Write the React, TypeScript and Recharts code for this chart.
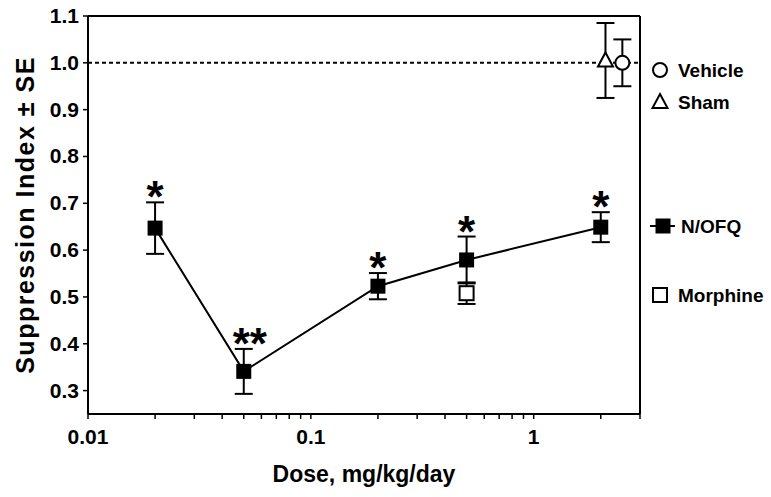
import React from "react";
import {
  ComposedChart,
  Scatter,
  XAxis,
  YAxis,
  ErrorBar,
  ReferenceLine,
  Label,
} from "recharts";

// N/OFQ dose-response
const nofqDose = [0.02, 0.05, 0.2, 0.5, 2];
const nofqMean = [0.647, 0.341, 0.523, 0.579, 0.649];
const nofqSE = [0.055, 0.048, 0.028, 0.05, 0.032];
const nofqSig = ["*", "**", "*", "*", "*"];

// single-dose groups
const morphineDose = [0.5];
const morphineMean = [0.508];
const morphineSE = [0.023];
const shamDose = [2.1];
const shamMean = [1.005];
const shamSE = [0.08];
const vehicleDose = [2.5];
const vehicleMean = [1.0];
const vehicleSE = [0.05];

const yTicks = [0.3, 0.4, 0.5, 0.6, 0.7, 0.8, 0.9, 1.0, 1.1];
const xTicks = [
  0.01, 0.02, 0.03, 0.04, 0.05, 0.06, 0.07, 0.08, 0.09,
  0.1, 0.2, 0.3, 0.4, 0.5, 0.6, 0.7, 0.8, 0.9, 1, 2, 3,
];
const xLabels = [0.01, 0.1, 1];

const FONT = "'Liberation Sans', Arial, Helvetica, sans-serif";

const toRows = (dose: number[], mean: number[], se: number[]) =>
  dose.map((d, i) => ({ dose: d, value: mean[i], se: se[i] }));

const nofq = toRows(nofqDose, nofqMean, nofqSE);
const morphine = toRows(morphineDose, morphineMean, morphineSE);
const sham = toRows(shamDose, shamMean, shamSE);
const vehicle = toRows(vehicleDose, vehicleMean, vehicleSE);
const stars = nofqDose.map((d, i) => ({
  dose: d,
  value: nofqMean[i] + nofqSE[i],
  sig: nofqSig[i],
}));

const FilledSquare = (p: any) => (
  <rect x={p.cx - 7.5} y={p.cy - 7.5} width={15} height={15} fill="#000" />
);
const OpenSquare = (p: any) => (
  <rect x={p.cx - 7} y={p.cy - 7} width={14} height={14} fill="#fff" stroke="#000" strokeWidth={2} />
);
const OpenCircle = (p: any) => (
  <circle cx={p.cx} cy={p.cy} r={7} fill="#fff" stroke="#000" strokeWidth={2} />
);
const OpenTriangle = (p: any) => (
  <path
    d={`M${p.cx},${p.cy - 8} L${p.cx + 7.5},${p.cy + 6} L${p.cx - 7.5},${p.cy + 6} Z`}
    fill="#fff"
    stroke="#000"
    strokeWidth={2}
  />
);
// significance marks sit just above the upper error cap
const Star = (p: any) => (
  <text
    x={p.cx + (p.payload.sig.length - 1) * 6}
    y={p.cy + 10}
    textAnchor="middle"
    fontFamily={FONT}
    fontWeight="bold"
    fontSize={44}
    fill="#000"
  >
    {p.payload.sig}
  </text>
);

const XTick = (p: any) => {
  const v = p.payload.value;
  if (!xLabels.includes(v)) return null;
  return (
    <text x={p.x} y={p.y + 23} textAnchor="middle" fontFamily={FONT} fontWeight="bold" fontSize={21} fill="#000">
      {v}
    </text>
  );
};

const YTick = (p: any) => (
  <text x={p.x} y={p.y + 7} textAnchor="end" fontFamily={FONT} fontWeight="bold" fontSize={21} fill="#000">
    {Number(p.payload.value).toFixed(1)}
  </text>
);

const legendItems = [
  { name: "Vehicle", y: 70, icon: "circle" },
  { name: "Sham", y: 102, icon: "triangle" },
  { name: "N/OFQ", y: 226, icon: "line" },
  { name: "Morphine", y: 295, icon: "square" },
];

const SideLegend = () => (
  <svg width={123} height={497} style={{ position: "absolute", left: 648, top: 0 }}>
    {legendItems.map((it) => {
      const cx = 12;
      const cy = it.y;
      let icon;
      if (it.icon === "circle") icon = <OpenCircle cx={cx} cy={cy} />;
      else if (it.icon === "triangle") icon = <OpenTriangle cx={cx} cy={cy} />;
      else if (it.icon === "square") icon = <OpenSquare cx={cx} cy={cy} />;
      else
        icon = (
          <g>
            <line x1={2} x2={27} y1={cy} y2={cy} stroke="#000" strokeWidth={2} />
            <FilledSquare cx={15} cy={cy} />
          </g>
        );
      return (
        <g key={it.name}>
          {icon}
          <text
            x={it.icon === "line" ? 33 : 30}
            y={cy + 7}
            fontFamily={FONT}
            fontWeight="bold"
            fontSize={19}
            fill="#000"
          >
            {it.name}
          </text>
        </g>
      );
    })}
  </svg>
);

export default function App() {
  return (
    <div style={{ position: "absolute", left: 0, top: 0, width: 771, height: 497, background: "#fff" }}>
      <ComposedChart
        width={771}
        height={497}
        margin={{ top: 16, right: 131, left: 0, bottom: 23 }}
      >
        <XAxis
          dataKey="dose"
          type="number"
          scale="log"
          domain={[0.01, 3]}
          ticks={xTicks}
          interval={0}
          allowDataOverflow
          height={60}
          tickSize={5}
          tick={<XTick />}
          axisLine={{ stroke: "#000", strokeWidth: 2 }}
          tickLine={{ stroke: "#000", strokeWidth: 1.5 }}
        >
          <Label
            value="Dose, mg/kg/day"
            position="bottom"
            offset={-8}
            style={{ fontFamily: FONT, fontWeight: "bold", fontSize: 23, fill: "#000" }}
          />
        </XAxis>
        <YAxis
          dataKey="value"
          type="number"
          domain={[0.25, 1.1]}
          ticks={yTicks}
          interval={0}
          allowDataOverflow
          width={88}
          tickSize={5}
          tickMargin={4}
          tick={<YTick />}
          axisLine={{ stroke: "#000", strokeWidth: 2 }}
          tickLine={{ stroke: "#000", strokeWidth: 1.5 }}
        >
          <Label
            value="Suppression Index ± SE"
            angle={-90}
            position="insideLeft"
            offset={25}
            style={{
              fontFamily: FONT,
              fontWeight: "bold",
              fontSize: 25,
              letterSpacing: 1.5,
              fill: "#000",
              textAnchor: "middle",
            }}
          />
        </YAxis>
        <ReferenceLine y={1.1} stroke="#000" strokeWidth={2} />
        <ReferenceLine x={3} stroke="#000" strokeWidth={2} />
        <ReferenceLine y={1} stroke="#000" strokeWidth={2} strokeDasharray="4 3" />
        <Scatter name="Sham" data={sham} shape={<OpenTriangle />} isAnimationActive={false}>
          <ErrorBar dataKey="se" direction="y" width={9} stroke="#000" strokeWidth={2} />
        </Scatter>
        <Scatter name="Vehicle" data={vehicle} shape={<OpenCircle />} isAnimationActive={false}>
          <ErrorBar dataKey="se" direction="y" width={9} stroke="#000" strokeWidth={2} />
        </Scatter>
        <Scatter name="Morphine" data={morphine} shape={<OpenSquare />} isAnimationActive={false}>
          <ErrorBar dataKey="se" direction="y" width={9} stroke="#000" strokeWidth={2} />
        </Scatter>
        <Scatter
          name="N/OFQ"
          data={nofq}
          shape={<FilledSquare />}
          line={{ stroke: "#000", strokeWidth: 2 }}
          lineType="joint"
          isAnimationActive={false}
        >
          <ErrorBar dataKey="se" direction="y" width={9} stroke="#000" strokeWidth={2} />
        </Scatter>
        <Scatter name="sig" data={stars} shape={<Star />} isAnimationActive={false} />
      </ComposedChart>
      <SideLegend />
    </div>
  );
}
